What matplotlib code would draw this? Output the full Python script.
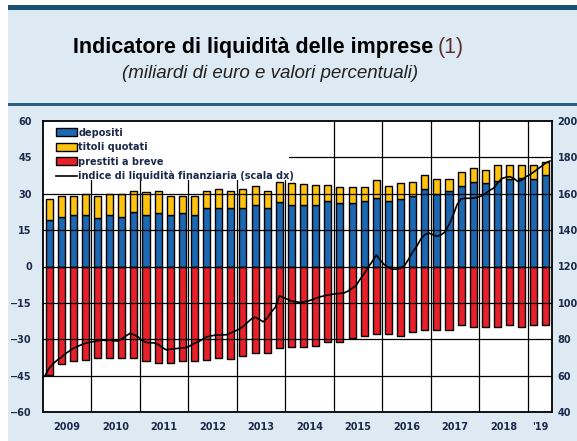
import matplotlib
matplotlib.use("Agg")
import matplotlib.pyplot as plt
import matplotlib.patches as mpatches
from matplotlib.lines import Line2D
import numpy as np

# quarterly data, 2009Q1 - 2019Q2 (miliardi di euro)
depositi = [19.2, 20.5, 21.1, 21.1, 19.9, 21.2, 20.5, 22.6, 21.1, 21.9, 21.1, 21.9,
            21.1, 24.0, 24.0, 24.0, 24.0, 25.4, 24.0, 26.8, 25.5, 25.5, 25.5, 27.0,
            26.2, 26.2, 27.0, 28.4, 27.0, 27.7, 29.2, 31.8, 29.8, 31.1, 33.3, 34.7,
            34.3, 35.4, 36.1, 36.6, 36.1, 37.7]
titoli = [8.5, 8.7, 8.1, 8.6, 9.1, 8.5, 9.2, 8.7, 9.5, 9.4, 7.9, 7.1,
          8.0, 7.3, 8.0, 7.3, 8.0, 7.8, 7.3, 7.9, 8.8, 8.7, 8.0, 6.5,
          6.6, 6.6, 5.8, 7.1, 6.3, 6.6, 5.5, 5.9, 6.3, 5.0, 5.8, 5.8,
          5.5, 6.5, 5.8, 5.3, 5.8, 5.5]
prestiti = [-44.7, -40.4, -39.0, -38.6, -37.6, -37.6, -37.6, -37.6, -39.1, -39.8, -39.8, -39.1,
            -39.1, -38.4, -37.7, -38.3, -36.9, -35.5, -35.5, -33.5, -33.4, -33.4, -32.6, -31.0,
            -31.0, -29.6, -28.5, -27.8, -27.8, -28.5, -27.1, -26.2, -26.2, -26.2, -24.1, -24.8,
            -24.8, -24.8, -24.1, -24.8, -24.1, -24.1]

# monthly liquidity index (right scale), Jan 2009 - Jun 2019
indice = [60, 64, 66.5, 68.5, 70, 72, 73.5, 75, 76, 77, 77.8, 78.3,
          78.7, 79.2, 79.6, 79.3, 79.6, 79.2, 79, 80.2, 81.8, 83.2, 82.5, 81.4,
          79.3, 78.3, 78, 78, 77.2, 75.5, 74.2, 74.5, 74.8, 75, 75.2, 75.4,
          76.5, 77.8, 78.6, 80, 81.3, 81.8, 82.2, 82.4, 82.4, 82.5, 83.5, 84.5,
          85.5, 87, 89, 91, 92.2, 91, 89.6, 91.5, 95, 97.5, 103.8, 103,
          102, 101, 100.6, 100.3, 100.5, 101, 101.6, 102.5, 103.3, 103.8, 104.3, 104.7,
          105, 105.2, 105.4, 106.5, 108, 109.5, 113, 116, 119.5, 122.8, 126.3, 123.5,
          121, 119.5, 118.5, 118.6, 119, 120.5, 124, 128, 131, 135, 137.5, 138.4,
          137.5, 136.6, 137.3, 139, 143, 148, 154, 157.2, 157.5, 157.5, 157.6, 158,
          158.8, 160, 161.8, 163, 165.8, 168.3, 169, 169.4, 168.5, 166.8, 167.5, 169.3,
          170.5, 172, 173.7, 175.3, 177, 178]

anni = ["2009", "2010", "2011", "2012", "2013", "2014", "2015", "2016", "2017", "2018", "'19"]

BLUE = "#1c68b2"
YELLOW = "#ffc20e"
RED = "#e8202a"
NAVY = "#1b2a4a"
PANEL = "#dde9f3"

W, H = 577, 441
fig = plt.figure(figsize=(W / 100, H / 100), dpi=100)
fig.patch.set_facecolor("white")


def frac(x, y):
    return x / W, 1 - y / H


def rect(x0, y0, x1, y1, color):
    fx, fy = frac(x0, y1)
    fig.patches.append(mpatches.Rectangle((fx, fy), (x1 - x0) / W, (y1 - y0) / H,
                                          transform=fig.transFigure, facecolor=color,
                                          edgecolor="none", zorder=-5))


# panel background and rules
rect(8, 10, W, H, PANEL)
rect(8, 5, W, 10, "#1a5274")
rect(8, 103, W, 105.5, "#2a5f80")

# title, "(1)" placed right after the bold part
t = fig.text(*frac(73, 47), "Indicatore di liquidità delle imprese", ha="left", va="center",
             fontsize=15.5, fontweight="bold", color="black", family="Liberation Sans")
fig.canvas.draw()
bb = t.get_window_extent()
fig.text((bb.x1 + 4) / W, frac(0, 47)[1], "(1)", ha="left", va="center",
         fontsize=15.5, color="#5c2e2e", family="Liberation Sans")
fig.text(*frac(270, 73), "(miliardi di euro e valori percentuali)", ha="center", va="center",
         fontsize=13.5, style="italic", color="#222222", family="Liberation Sans")

# axes
l, b = frac(43, 412)
r, tp = frac(552, 121)
ax = fig.add_axes([l, b, r - l, tp - b])
ax.set_facecolor("white")

n = len(depositi)
x = np.arange(n)
bw = 0.58
ax.bar(x, depositi, bw, color=BLUE, edgecolor="black", linewidth=1.0, zorder=2)
ax.bar(x, titoli, bw, bottom=depositi, color=YELLOW, edgecolor="black", linewidth=1.0, zorder=2)
ax.bar(x, prestiti, bw, color=RED, edgecolor="black", linewidth=1.0, zorder=2)

ax.set_xlim(-0.5, n - 0.5)
ax.set_ylim(-60, 60)
ax.set_yticks(np.arange(-60, 61, 15))

# grid drawn over the bars
for yv in np.arange(-45, 60, 15):
    ax.axhline(yv, color="black", lw=0.9, zorder=3)
for k in range(1, 11):
    ax.axvline(4 * k - 0.5, color="black", lw=0.9, zorder=3)

# white box behind the legend
ax.add_patch(mpatches.Rectangle((-0.5, 35.6), 20.3, 30, facecolor="white",
                                edgecolor="none", zorder=4))

centers = [4 * k + 1.5 for k in range(10)] + [40.5]
ax.set_xticks(centers)
ax.set_xticklabels(anni)
ax.tick_params(axis="both", length=0, labelsize=7, labelcolor=NAVY)
ax.tick_params(axis="y", pad=8)
ax.tick_params(axis="x", pad=7)
for lab in ax.get_xticklabels() + ax.get_yticklabels():
    lab.set_fontweight("bold")

for s in ax.spines.values():
    s.set_color("black")
    s.set_linewidth(1.3)
    s.set_zorder(6)

# right axis with the index
ax2 = ax.twinx()
ax2.set_ylim(40, 200)
ax2.set_yticks(np.arange(40, 201, 20))
ax2.tick_params(axis="y", length=0, labelsize=7, labelcolor=NAVY, pad=4)
for lab in ax2.get_yticklabels():
    lab.set_fontweight("bold")
for s in ax2.spines.values():
    s.set_visible(False)
xm = (np.arange(len(indice)) + 0.5) / 3 - 0.5
ax2.plot(xm, indice, color="black", lw=1.2, zorder=5)

handles = [
    mpatches.Patch(facecolor=BLUE, edgecolor="black", linewidth=1.0, label="depositi"),
    mpatches.Patch(facecolor=YELLOW, edgecolor="black", linewidth=1.0, label="titoli quotati"),
    mpatches.Patch(facecolor=RED, edgecolor="black", linewidth=1.0, label="prestiti a breve"),
    Line2D([], [], color="black", lw=1.2, label="indice di liquidità finanziaria (scala dx)"),
]
leg = ax2.legend(handles=handles, loc="upper left", bbox_to_anchor=(0.012, 1.0),
                 frameon=False, fontsize=7, handlelength=2.2, handleheight=0.9,
                 handletextpad=0.1, labelspacing=0.45, borderaxespad=0.3)
for txt in leg.get_texts():
    txt.set_color(NAVY)
    txt.set_fontweight("bold")
leg.set_zorder(7)

fig.savefig("out.png", dpi=100)
